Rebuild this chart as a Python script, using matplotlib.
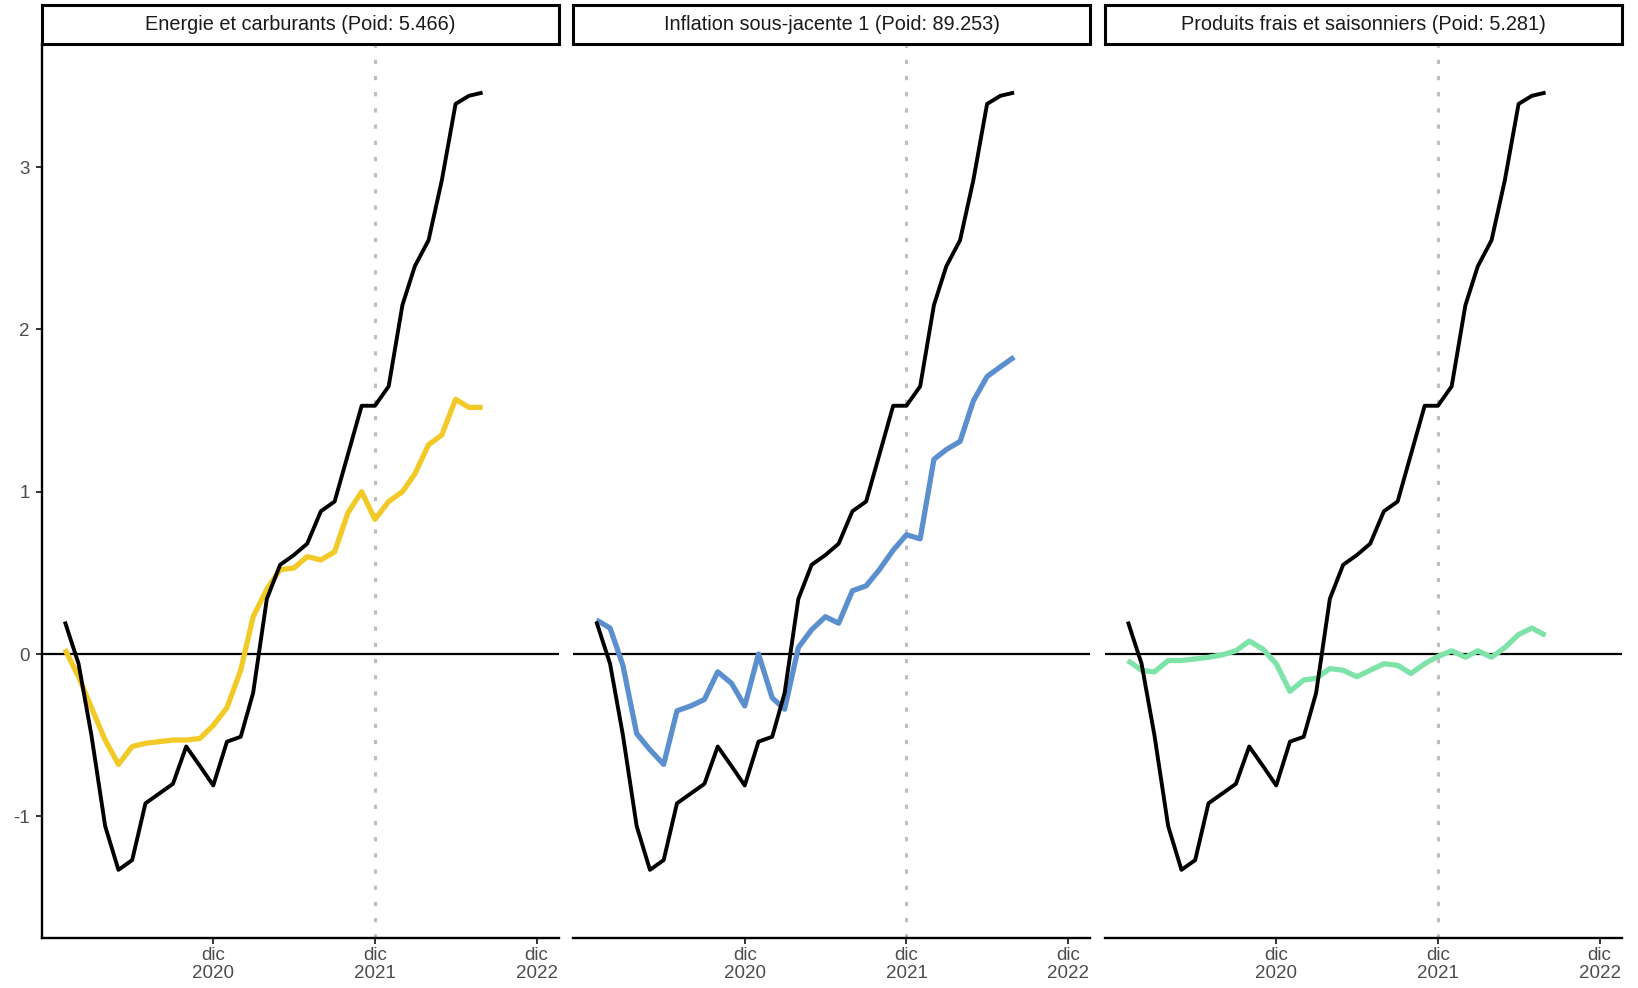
import matplotlib
matplotlib.use("Agg")
import matplotlib.pyplot as plt
import pandas as pd

plt.rcParams['font.family'] = ['Liberation Sans', 'DejaVu Sans']

dates = pd.date_range('2020-01-01', periods=32, freq='MS')

total = [0.20, -0.06, -0.50, -1.06, -1.33, -1.27, -0.92, -0.86, -0.80, -0.57, -0.69, -0.81,
         -0.54, -0.51, -0.24, 0.34, 0.55, 0.61, 0.68, 0.88, 0.94, 1.23, 1.53, 1.53,
         1.65, 2.15, 2.39, 2.55, 2.92, 3.39, 3.44, 3.46]

energie = [0.03, -0.14, -0.33, -0.53, -0.68, -0.57, -0.55, -0.54, -0.53, -0.53, -0.52, -0.44,
           -0.33, -0.10, 0.23, 0.40, 0.52, 0.53, 0.60, 0.58, 0.63, 0.87, 1.00, 0.83,
           0.94, 1.00, 1.11, 1.29, 1.35, 1.57, 1.52, 1.52]

sous_jacente = [0.21, 0.16, -0.07, -0.49, -0.59, -0.68, -0.35, -0.32, -0.28, -0.11, -0.18, -0.32,
                0.00, -0.27, -0.34, 0.04, 0.15, 0.23, 0.19, 0.39, 0.42, 0.52, 0.64, 0.735,
                0.71, 1.20, 1.26, 1.31, 1.56, 1.71, 1.77, 1.83]

frais = [-0.04, -0.10, -0.11, -0.04, -0.04, -0.03, -0.02, -0.005, 0.02, 0.08, 0.03, -0.06,
         -0.23, -0.16, -0.15, -0.09, -0.10, -0.14, -0.10, -0.06, -0.07, -0.12, -0.06, -0.015,
         0.02, -0.02, 0.02, -0.02, 0.04, 0.12, 0.16, 0.115]

titles = ["Energie et carburants (Poid: 5.466)",
          "Inflation sous-jacente 1 (Poid: 89.253)",
          "Produits frais et saisonniers (Poid: 5.281)"]
series = [energie, sous_jacente, frais]
colors = ["#F2CA27", "#5C8FCE", "#7EE3A9"]

tick_dates = pd.to_datetime(['2020-12-01', '2021-12-01', '2022-12-01'])
tick_labels = ["dic\n2020", "dic\n2021", "dic\n2022"]
yticks = [-1, 0, 1, 2, 3]
ylabels = ["-1", "0", "1", "2", "3"]
vline_date = pd.Timestamp('2021-12-01')

W, H = 1638, 988
fig = plt.figure(figsize=(W / 100, H / 100), dpi=100)

left0 = 41.8
pw = 517.0
gap = 14.5
plot_top = 43.9
plot_bot = 938.0
strip_top = 5.2

for k in range(3):
    x0 = left0 + k * (pw + gap)
    ax = fig.add_axes([x0 / W, 1 - plot_bot / H, pw / W, (plot_bot - plot_top) / H])
    ax.axhline(0, color='black', lw=1.6, zorder=1)
    ax.axvline(vline_date, color='#BEBEBE', lw=2.2, ls=(0, (1.4, 3.9)), zorder=1)
    ax.plot(dates, series[k], color=colors[k], lw=3.8, solid_capstyle='butt', zorder=2)
    ax.plot(dates, total, color='black', lw=2.8, solid_capstyle='butt', zorder=3)
    ax.set_xlim(pd.Timestamp('2019-11-10'), pd.Timestamp('2023-01-20'))
    ax.set_ylim(-1.75, 3.76)
    ax.set_xticks(tick_dates)
    ax.set_xticklabels(tick_labels)
    ax.set_yticks(yticks)
    for s in ['top', 'right']:
        ax.spines[s].set_visible(False)
    ax.spines['bottom'].set_linewidth(1.7)
    ax.spines['left'].set_linewidth(1.7)
    ax.tick_params(axis='x', length=4.5, width=1.4, color='#333333', labelsize=13.5,
                   labelcolor='#4D4D4D', pad=2)
    if k == 0:
        ax.set_yticklabels(ylabels)
        ax.tick_params(axis='y', length=4.5, width=1.4, color='#333333', labelsize=13.5,
                       labelcolor='#4D4D4D', pad=4)
    else:
        ax.spines['left'].set_visible(False)
        ax.tick_params(axis='y', left=False, labelleft=False)
    for lab in ax.get_xticklabels():
        lab.set_linespacing(1.1)
    ax.set_facecolor('white')

    sax = fig.add_axes([x0 / W, 1 - plot_top / H, pw / W, (plot_top - strip_top) / H])
    sax.set_xticks([])
    sax.set_yticks([])
    for s in sax.spines.values():
        s.set_linewidth(2.2)
        s.set_color('black')
    sax.text(0.5, 0.5, titles[k], ha='center', va='center', fontsize=14.3, color='#1A1A1A',
             transform=sax.transAxes)

fig.savefig('out.png', dpi=100, facecolor='white')
